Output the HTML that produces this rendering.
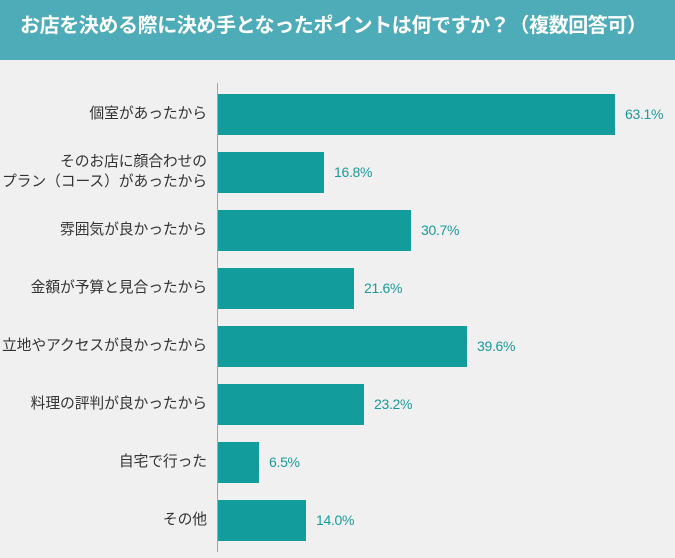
<!DOCTYPE html>
<html><head><meta charset="utf-8"><style>
body{margin:0;width:675px;height:558px;background:#f0f0f0;font-family:"Liberation Sans","Noto Sans CJK JP",sans-serif;position:relative;overflow:hidden}
.hd{position:absolute;left:0;top:0;width:675px;height:60px;background:#4eacb8;color:#fff;font-size:20px;font-weight:bold;line-height:52px;padding-left:20px;box-sizing:border-box;white-space:nowrap;letter-spacing:-0.4px}
.ax{position:absolute;left:217px;top:83px;width:1px;height:469px;background:#7fb8b8}
.bar{position:absolute;left:218px;height:41px;background:#139c9c}
.lb{position:absolute;right:468px;font-size:14.8px;letter-spacing:-0.1px;color:#333;text-align:right;line-height:20px;white-space:nowrap}
.v{position:absolute;font-size:14px;color:#1a9a9a;line-height:20px;letter-spacing:-0.3px}
</style></head><body>
<div class="hd">お店を決める際に決め手となったポイントは何ですか？（複数回答可）</div>
<div class="ax"></div>
<div class="bar" style="top:94px;width:397px"></div><div class="lb" style="top:104px">個室があったから</div><div class="v" style="top:104px;left:625px">63.1%</div>
<div class="bar" style="top:152px;width:106px"></div><div class="lb" style="top:152px">そのお店に顔合わせの<br>プラン（コース）があったから</div><div class="v" style="top:162px;left:334px">16.8%</div>
<div class="bar" style="top:210px;width:193px"></div><div class="lb" style="top:220px">雰囲気が良かったから</div><div class="v" style="top:220px;left:421px">30.7%</div>
<div class="bar" style="top:268px;width:136px"></div><div class="lb" style="top:278px">金額が予算と見合ったから</div><div class="v" style="top:278px;left:364px">21.6%</div>
<div class="bar" style="top:326px;width:249px"></div><div class="lb" style="top:336px">立地やアクセスが良かったから</div><div class="v" style="top:336px;left:477px">39.6%</div>
<div class="bar" style="top:384px;width:146px"></div><div class="lb" style="top:394px">料理の評判が良かったから</div><div class="v" style="top:394px;left:374px">23.2%</div>
<div class="bar" style="top:442px;width:41px"></div><div class="lb" style="top:452px">自宅で行った</div><div class="v" style="top:452px;left:269px">6.5%</div>
<div class="bar" style="top:500px;width:88px"></div><div class="lb" style="top:510px">その他</div><div class="v" style="top:510px;left:316px">14.0%</div>
</body></html>
